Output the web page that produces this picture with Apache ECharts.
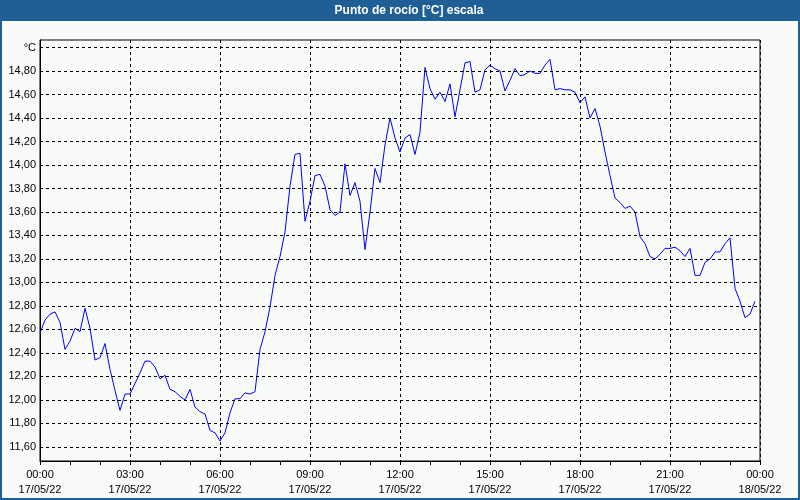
<!DOCTYPE html>
<html><head><meta charset="utf-8">
<script src="https://cdn.jsdelivr.net/npm/echarts@6/dist/echarts.min.js"></script>
<style>html,body{margin:0;padding:0;background:#f8fbf8}#c{width:800px;height:500px}</style>
</head><body><div id="c"></div>
<script>
const titleText = 'Punto de rocío [°C] escala';
const stepMinutes = 10;
const dewPoint = [
 12.57,12.68,12.73,12.75,12.66,12.43,12.50,12.61,12.58,12.78,12.61,12.34,
 12.36,12.48,12.26,12.08,11.91,12.05,12.05,12.14,12.23,12.33,12.33,12.28,
 12.18,12.21,12.09,12.07,12.03,12.00,12.09,11.94,11.90,11.88,11.74,11.72,
 11.65,11.72,11.89,12.01,12.01,12.06,12.05,12.07,12.43,12.58,12.79,13.06,
 13.22,13.43,13.82,14.09,14.10,13.52,13.69,13.91,13.92,13.82,13.62,13.57,
 13.60,14.01,13.74,13.85,13.69,13.28,13.60,13.97,13.85,14.17,14.40,14.23,
 14.11,14.23,14.26,14.09,14.28,14.83,14.65,14.56,14.62,14.54,14.69,14.41,
 14.64,14.87,14.88,14.62,14.64,14.81,14.85,14.82,14.80,14.63,14.72,14.82,
 14.76,14.77,14.80,14.78,14.78,14.85,14.90,14.64,14.65,14.64,14.64,14.62,
 14.53,14.58,14.40,14.48,14.33,14.11,13.91,13.72,13.68,13.63,13.65,13.60,
 13.39,13.33,13.22,13.20,13.24,13.29,13.29,13.30,13.27,13.22,13.29,13.06,
 13.06,13.17,13.20,13.26,13.26,13.33,13.38,12.95,12.84,12.70,12.73,12.84
];
const xTickMinutes = [0,180,360,540,720,900,1080,1260,1440];
const xTickTimes = ['00:00','03:00','06:00','09:00','12:00','15:00','18:00','21:00','00:00'];
const xTickDates = ['17/05/22','17/05/22','17/05/22','17/05/22','17/05/22','17/05/22','17/05/22','17/05/22','18/05/22'];
const yTickValues = [11.6,11.8,12.0,12.2,12.4,12.6,12.8,13.0,13.2,13.4,13.6,13.8,14.0,14.2,14.4,14.6,14.8,15.0];
const yTopLabel = '°C';

const font = 'Liberation Sans, Arial, sans-serif';
const chart = echarts.init(document.getElementById('c'), null, {renderer:'canvas'});
const seriesData = dewPoint.map((v,i)=>[i*stepMinutes, v]);
const dash = {color:'#000', type:[3,3], width:1};

chart.setOption({
  backgroundColor:'#f8fbf8',
  animation:false,
  grid:{left:40,right:40,top:40,bottom:39,show:true,borderColor:'#000',borderWidth:1,backgroundColor:'transparent'},
  xAxis:{
    type:'value',min:0,max:1440,interval:180,
    axisLine:{show:true,lineStyle:{color:'#000',width:1}},
    axisTick:{show:true,length:4,lineStyle:{color:'#000'}},
    minorTick:{show:true,splitNumber:3,length:4,lineStyle:{color:'#000'}},
    splitLine:{show:true,lineStyle:dash},
    axisLabel:{
      showMinLabel:true,showMaxLabel:true,
      margin:6,fontSize:11,lineHeight:15,color:'#000',fontFamily:font,
      formatter:v=>{const i=xTickMinutes.indexOf(v);return i>=0?xTickTimes[i]+'\n'+xTickDates[i]:'';}
    }
  },
  yAxis:{
    type:'value',min:11.48,max:15.064,
    axisLine:{show:true,lineStyle:{color:'#000',width:1}},
    axisTick:{show:false},
    splitLine:{show:false},
    axisLabel:{
      customValues:yTickValues,
      margin:4,fontSize:11,color:'#000',fontFamily:font,
      formatter:v=>Math.abs(v-15)<1e-6?yTopLabel:v.toFixed(2).replace('.',',')
    }
  },
  series:[
    {type:'line',data:[],z:1,silent:true,
     markLine:{silent:true,symbol:['none','none'],label:{show:false},lineStyle:dash,animation:false,
       data:yTickValues.map(v=>({yAxis:v}))}},
    {type:'line',data:seriesData,z:3,symbol:'none',showSymbol:false,
     lineStyle:{color:'#0000ff',width:1},itemStyle:{color:'#0000ff'}}
  ],
  graphic:[
    {type:'rect',shape:{x:0,y:0,width:800,height:21},style:{fill:'#1f5f95'},silent:true},
    {type:'text',x:409,y:10.5,style:{text:titleText,fill:'#fff',font:'bold 12px '+font,textAlign:'center',textVerticalAlign:'middle'},silent:true},
    {type:'rect',shape:{x:0,y:0,width:2,height:500},style:{fill:'#1f5f95'},silent:true},
    {type:'rect',shape:{x:798,y:0,width:2,height:500},style:{fill:'#1f5f95'},silent:true},
    {type:'rect',shape:{x:0,y:498,width:800,height:2},style:{fill:'#1f5f95'},silent:true}
  ]
});
</script></body></html>
